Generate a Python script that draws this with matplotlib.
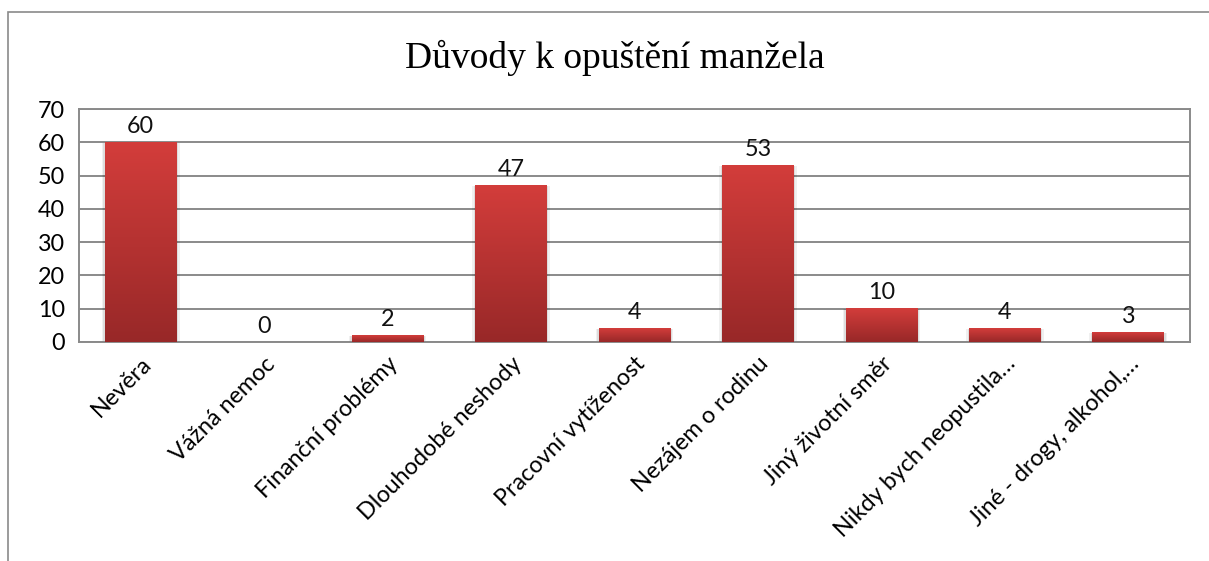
import numpy as np
import matplotlib.pyplot as plt
from matplotlib.colors import LinearSegmentedColormap
from matplotlib.patches import Rectangle

categories = ["Nevěra", "Vážná nemoc", "Finanční problémy", "Dlouhodobé neshody",
              "Pracovní vytíženost", "Nezájem o rodinu", "Jiný životní směr",
              "Nikdy bych neopustila…", "Jiné - drogy, alkohol,…"]
values = [60, 0, 2, 47, 4, 53, 10, 4, 3]
yticks = [0, 10, 20, 30, 40, 50, 60, 70]

plt.rcParams['font.family'] = ['Lato', 'DejaVu Sans']
fs = 16.8

fig = plt.figure(figsize=(12.09, 5.61), dpi=100)
ax = fig.add_axes([79/1209, 1 - 342/561, (1190 - 79)/1209, (342 - 109)/561])

# outer chart frame
fig.patches.append(Rectangle((8/1209, -0.1), 1.2, 1.1 - 12/561, transform=fig.transFigure,
                             fill=False, edgecolor='#8a8a8a', linewidth=1.2))

cmap = LinearSegmentedColormap.from_list('bar', ['#982828', '#d33d3b'])
grad = np.linspace(0, 1, 256).reshape(-1, 1)
width = 0.58
x = np.arange(len(categories))
for xi, v in zip(x, values):
    if v > 0:
        # soft shadow
        for k, a in [(0.025, 0.06), (0.012, 0.08)]:
            ax.add_patch(Rectangle((xi - width/2 - k, -0.5), width + 2*k, v + 0.3, color='#000000',
                                   alpha=a, linewidth=0, zorder=2))
        ax.imshow(grad, cmap=cmap, origin='lower', aspect='auto',
                  extent=(xi - width/2, xi + width/2, 0, v), zorder=3)
    ax.text(xi, v + 1.6, str(v), ha='center', va='bottom', fontsize=fs, color='#111111', zorder=4)

ax.set_xlim(-0.5, len(categories) - 0.5)
ax.set_ylim(0, 70)
ax.set_yticks(yticks)
ax.set_yticklabels([str(t) for t in yticks], fontsize=fs)
ax.set_xticks(x)
ax.set_xticklabels(categories, rotation=45, ha='right', rotation_mode='anchor', fontsize=fs)
ax.tick_params(length=0)
ax.tick_params(axis='y', pad=10)
ax.tick_params(axis='x', pad=8)
ax.grid(axis='y', color='#8a8a8a', linewidth=1.4, zorder=1)
ax.set_axisbelow(True)
for s in ax.spines.values():
    s.set_color('#8a8a8a')
    s.set_linewidth(1.4)

fig.text(615/1209, 1 - 58/561, "Důvody k opuštění manžela", family='Liberation Serif',
         fontsize=27, ha='center', va='center')

fig.savefig('out.png', dpi=100)
